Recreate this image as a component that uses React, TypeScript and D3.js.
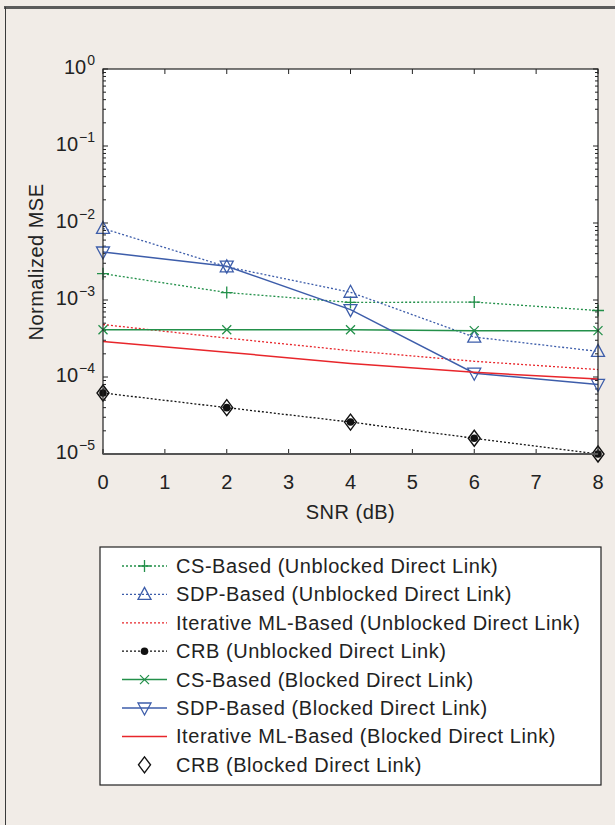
import React from 'react';
import * as d3 from 'd3';

const snr = [0, 2, 4, 6, 8];
const csUnblocked = [2.2e-3, 1.25e-3, 9.3e-4, 9.4e-4, 7.3e-4];
const sdpUnblocked = [8.5e-3, 2.7e-3, 1.26e-3, 3.3e-4, 2.15e-4];
const mlUnblocked = [4.8e-4, 3.2e-4, 2.2e-4, 1.6e-4, 1.25e-4];
const crbUnblocked = [6.2e-5, 4.0e-5, 2.6e-5, 1.6e-5, 1.0e-5];
const csBlocked = [4.1e-4, 4.1e-4, 4.1e-4, 4.0e-4, 4.0e-4];
const sdpBlocked = [4.2e-3, 2.75e-3, 7.5e-4, 1.12e-4, 8.0e-5];
const mlBlocked = [2.9e-4, 2.1e-4, 1.5e-4, 1.15e-4, 9.4e-5];
const crbBlocked = [6.2e-5, 4.0e-5, 2.6e-5, 1.6e-5, 1.0e-5];

const xTicks = [0, 1, 2, 3, 4, 5, 6, 7, 8];
const yExponents = [0, -1, -2, -3, -4, -5];

const GREEN = '#23904a';
const BLUE = '#3d5daa';
const RED = '#e8262b';
const BLACK = '#111';
const TEXT = '#222';
const FONT = '"Liberation Sans", Arial, Helvetica, sans-serif';

const series = [
  { name: 'CS-Based (Unblocked Direct Link)', values: csUnblocked, color: GREEN, dash: '2,2', marker: 'plus', line: true },
  { name: 'SDP-Based (Unblocked Direct Link)', values: sdpUnblocked, color: BLUE, dash: '2,2', marker: 'triUp', line: true },
  { name: 'Iterative ML-Based (Unblocked Direct Link)', values: mlUnblocked, color: RED, dash: '2,2', marker: 'none', line: true },
  { name: 'CRB (Unblocked Direct Link)', values: crbUnblocked, color: BLACK, dash: '2,2', marker: 'dot', line: true },
  { name: 'CS-Based (Blocked Direct Link)', values: csBlocked, color: GREEN, dash: null, marker: 'cross', line: true },
  { name: 'SDP-Based (Blocked Direct Link)', values: sdpBlocked, color: BLUE, dash: null, marker: 'triDown', line: true },
  { name: 'Iterative ML-Based (Blocked Direct Link)', values: mlBlocked, color: RED, dash: null, marker: 'none', line: true },
  { name: 'CRB (Blocked Direct Link)', values: crbBlocked, color: BLACK, dash: null, marker: 'diamond', line: false },
];

function Marker({ type, x, y, color }) {
  if (type === 'plus') {
    return <path d={`M${x - 6},${y}H${x + 6}M${x},${y - 6}V${y + 6}`} stroke={color} strokeWidth={1.3} fill="none" />;
  }
  if (type === 'cross') {
    return <path d={`M${x - 4.5},${y - 4.5}L${x + 4.5},${y + 4.5}M${x - 4.5},${y + 4.5}L${x + 4.5},${y - 4.5}`} stroke={color} strokeWidth={1.3} fill="none" />;
  }
  if (type === 'triUp') {
    return <path d={`M${x},${y - 7}L${x + 6.5},${y + 5}L${x - 6.5},${y + 5}Z`} stroke={color} strokeWidth={1.3} fill="none" />;
  }
  if (type === 'triDown') {
    return <path d={`M${x},${y + 7}L${x + 6.5},${y - 5}L${x - 6.5},${y - 5}Z`} stroke={color} strokeWidth={1.3} fill="none" />;
  }
  if (type === 'dot') {
    return <circle cx={x} cy={y} r={3.8} fill={color} />;
  }
  if (type === 'diamond') {
    return <path d={`M${x},${y - 8}L${x + 6},${y}L${x},${y + 8}L${x - 6},${y}Z`} stroke={color} strokeWidth={1.4} fill="none" />;
  }
  return null;
}

export default function App() {
  const width = 615;
  const height = 825;
  const left = 103, right = 598, top = 69, bottom = 454;

  const x = d3.scaleLinear().domain([0, 8]).range([left, right]);
  const y = d3.scaleLog().domain([1e-5, 1]).range([bottom, top]);
  const line = d3.line().x(d => x(d[0])).y(d => y(d[1]));

  const minorTicks = [];
  for (let e = -5; e < 0; e++) {
    for (let m = 2; m <= 9; m++) minorTicks.push(m * Math.pow(10, e));
  }

  const legendX = 100, legendY = 547, legendW = 501, legendH = 238;
  const rowY = (i) => 566 + i * 28.4;

  return (
    <svg width={width} height={height} style={{ position: 'absolute', left: 0, top: 0 }} fontFamily={FONT}>
      <rect x={0} y={0} width={width} height={height} fill="#f1ece7" />
      <line x1={4} x2={width} y1={7.5} y2={7.5} stroke="#5b5b5b" strokeWidth={3} />
      <line x1={5.5} x2={5.5} y1={7} y2={height} stroke="#3a3a3a" strokeWidth={1} />

      <rect x={left} y={top} width={right - left} height={bottom - top} fill="#fff" />

      {/* ticks */}
      {xTicks.map(t => (
        <g key={'xt' + t}>
          <line x1={x(t)} x2={x(t)} y1={bottom} y2={bottom - 5} stroke="#222" />
          <line x1={x(t)} x2={x(t)} y1={top} y2={top + 5} stroke="#222" />
          <text x={x(t)} y={489} textAnchor="middle" fontSize={20} fill={TEXT}>{t}</text>
        </g>
      ))}
      {minorTicks.map((v, i) => (
        <g key={'ym' + i}>
          <line x1={left} x2={left + 3} y1={y(v)} y2={y(v)} stroke="#222" />
          <line x1={right} x2={right - 3} y1={y(v)} y2={y(v)} stroke="#222" />
        </g>
      ))}
      {yExponents.map(e => (
        <g key={'ye' + e}>
          <line x1={left} x2={left + 5} y1={y(Math.pow(10, e))} y2={y(Math.pow(10, e))} stroke="#222" />
          <line x1={right} x2={right - 5} y1={y(Math.pow(10, e))} y2={y(Math.pow(10, e))} stroke="#222" />
          <text x={95} y={y(Math.pow(10, e)) + 5} textAnchor="end" fontSize={20} fill={TEXT}>
            <tspan>10</tspan>
            <tspan dx={1} dy={-9} fontSize={14}>{e === 0 ? '0' : '\u2212' + Math.abs(e)}</tspan>
          </text>
        </g>
      ))}

      {/* series */}
      {series.map(s => (
        <g key={s.name}>
          {s.line && (
            <path d={line(snr.map((v, i) => [v, s.values[i]]))} fill="none" stroke={s.color}
              strokeWidth={s.dash ? 1.3 : 1.5} strokeDasharray={s.dash || undefined} />
          )}
          {snr.map((v, i) => (
            <Marker key={i} type={s.marker} x={x(v)} y={y(s.values[i])} color={s.color} />
          ))}
        </g>
      ))}

      <rect x={left} y={top} width={right - left} height={bottom - top} fill="none" stroke="#222" strokeWidth={1.2} />
      <line x1={left} x2={right} y1={bottom} y2={bottom} stroke="#555" strokeWidth={2} />

      <text x={x(4)} y={519} textAnchor="middle" fontSize={20} letterSpacing={0.5} fill={TEXT}>SNR (dB)</text>
      <text transform={`translate(43,262) rotate(-90)`} textAnchor="middle" fontSize={20} letterSpacing={0.5} fill={TEXT}>Normalized MSE</text>

      {/* legend */}
      <rect x={legendX} y={legendY} width={legendW} height={legendH} fill="#fff" stroke="#222" strokeWidth={1.2} />
      {series.map((s, i) => (
        <g key={'lg' + i}>
          {s.line && (
            <line x1={122} x2={167} y1={rowY(i)} y2={rowY(i)} stroke={s.color}
              strokeWidth={s.dash ? 1.3 : 1.5} strokeDasharray={s.dash || undefined} />
          )}
          <Marker type={s.marker} x={144.5} y={rowY(i)} color={s.color} />
          <text x={176} y={rowY(i) + 7} fontSize={20} letterSpacing={0.55} fill={TEXT}>{s.name}</text>
        </g>
      ))}
    </svg>
  );
}
